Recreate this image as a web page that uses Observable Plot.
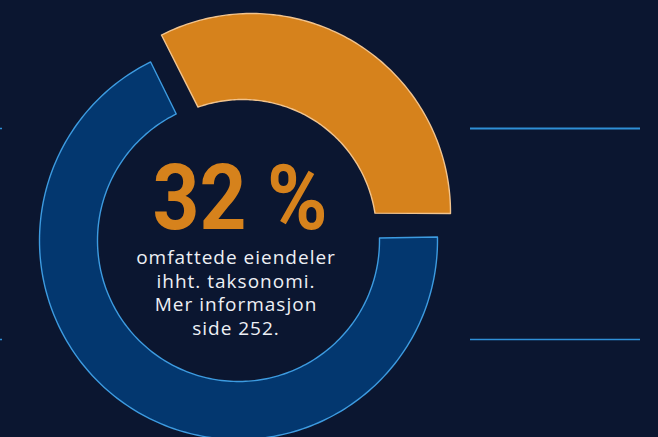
<!DOCTYPE html>
<html>
<head>
<meta charset="utf-8">
<script src="https://cdn.jsdelivr.net/npm/d3@7"></script>
<script src="https://cdn.jsdelivr.net/npm/@observablehq/plot@0.6"></script>
<style>
  html, body { margin: 0; padding: 0; background: #0b1630; }
  #chart { width: 658px; height: 437px; overflow: hidden; }
</style>
</head>
<body>
<div id="chart"></div>
<script>
// ---- data ----
const categories = ["Omfattede eiendeler", "Øvrige eiendeler"];
const shares = [32, 68];            // percent
const headline = "32 %";
const bodyText = ["omfattede eiendeler", "ihht. taksonomi.", "Mer informasjon", "side 252."];

// ---- style / layout ----
const W = 658, H = 437;
const colors = { bg: "#0b1630", orange: "#d6821c", orangeStroke: "#f2c48e", blue: "#03376f", blueStroke: "#3d9be0", rule: "#2f8fd6", text: "#eef0f5" };
const rad = d => d * Math.PI / 180;

// blue ring (centre at origin of the data space)
const blueRing = { cx: 0, cy: 0, inner: 141, outer: 199, start: 89 };
// highlighted (exploded) slice: outer and inner arc centres
const orangeRing = { outerC: [13, 28], innerC: [4, 7], inner: 134, outer: 199, end: 90.3, extra: 2 };

function arc(cx, cy, r, a0, a1, n) {
  const pts = [];
  for (let i = 0; i <= n; i++) {
    const a = rad(a0 + (a1 - a0) * i / n);
    pts.push([cx + r * Math.sin(a), cy + r * Math.cos(a)]);
  }
  return pts;
}
// where an edge running parallel to angle theta from outer point P meets the inner circle
function innerAngle(P, theta, C, r) {
  const u = [Math.sin(rad(theta)), Math.cos(rad(theta))];
  const d = [P[0] - C[0], P[1] - C[1]];
  const b = d[0] * u[0] + d[1] * u[1];
  const c = d[0] * d[0] + d[1] * d[1] - r * r;
  const t = b - Math.sqrt(b * b - c);
  const Q = [P[0] - t * u[0], P[1] - t * u[1]];
  return Math.atan2(Q[0] - C[0], Q[1] - C[1]) * 180 / Math.PI;
}

const span0 = shares[0] / 100 * 360;
const span1 = shares[1] / 100 * 360;

// orange slice
const oA0 = orangeRing.end - span0 - orangeRing.extra, oA1 = orangeRing.end;
const oOuter = arc(orangeRing.outerC[0], orangeRing.outerC[1], orangeRing.outer, oA0, oA1, 120);
const iA0 = innerAngle(oOuter[0], oA0, orangeRing.innerC, orangeRing.inner);
const iA1 = innerAngle(oOuter[oOuter.length - 1], oA1, orangeRing.innerC, orangeRing.inner);
const oInner = arc(orangeRing.innerC[0], orangeRing.innerC[1], orangeRing.inner, iA1, iA0, 120);
const orangePts = [...oOuter, ...oInner].map(([x, y]) => ({slice: categories[0], x, y}));

// blue slice
const bA0 = blueRing.start, bA1 = blueRing.start + span1;
const bluePts = [
  ...arc(0, 0, blueRing.outer, bA0, bA1, 200),
  ...arc(0, 0, blueRing.inner, bA1, bA0, 200)
].map(([x, y]) => ({slice: categories[1], x, y}));

const chart = Plot.plot({
  width: W, height: H,
  margin: 0,
  style: { background: colors.bg, overflow: "visible" },
  x: { domain: [-238, 420], range: [0, W], axis: null },
  y: { domain: [-197, 240], range: [H, 0], axis: null },
  marks: [
    Plot.line(bluePts, {x: "x", y: "y", fill: colors.blue, stroke: colors.blueStroke, strokeWidth: 1.4, curve: "linear-closed"}),
    Plot.line(orangePts, {x: "x", y: "y", fill: colors.orange, stroke: colors.orangeStroke, strokeWidth: 1.4, curve: "linear-closed"}),
    Plot.ruleY([112], {x1: 232, x2: 402, stroke: colors.rule, strokeWidth: 2}),
    Plot.ruleY([-99], {x1: 232, x2: 402, stroke: colors.rule, strokeWidth: 1.5}),
    Plot.ruleY([112, -99], {x1: -238, x2: -236, stroke: colors.rule, strokeWidth: 1.5}),
    Plot.text([headline], {x: 1.5, y: 12, text: d => d, fill: colors.orange, fontSize: 91, fontWeight: 700,
      fontFamily: "Roboto, 'DejaVu Sans', sans-serif", textAnchor: "middle", lineAnchor: "bottom"}),
    Plot.text([bodyText.join("\n")], {x: -2.5, y: -51.5, text: d => d, fill: colors.text, fontSize: 19,
      fontFamily: "'Open Sans', sans-serif", textAnchor: "middle", lineAnchor: "middle", lineHeight: 1.237})
  ]
});
// condense the headline to the reference's width, widen body text spacing
d3.select(chart).selectAll("text").each(function() {
  const el = d3.select(this);
  if (el.text() === headline) {
    el.attr("textLength", 175).attr("lengthAdjust", "spacingAndGlyphs");
  } else if (el.selectAll("tspan").size() > 0) {
    el.style("letter-spacing", "1px");
  }
});
document.getElementById("chart").appendChild(chart);
</script>
</body>
</html>
